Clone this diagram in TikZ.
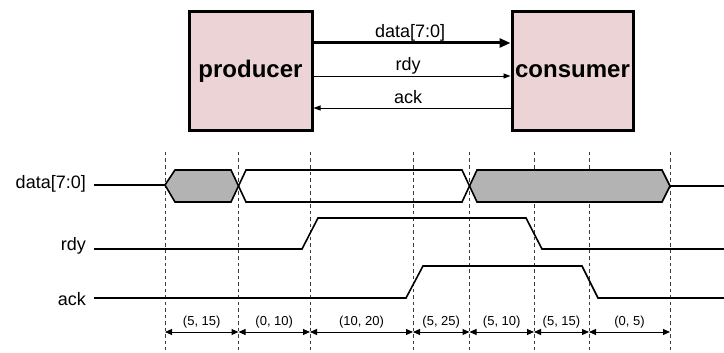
\documentclass[tikz,border=0pt]{standalone}
\usepackage{fontspec}
\setmainfont{Liberation Sans}
\usetikzlibrary{arrows.meta,calc}
\definecolor{blockfill}{RGB}{236,212,214}
\definecolor{busgray}{RGB}{179,179,179}
\definecolor{guidegray}{RGB}{60,60,60}
\tikzset{
  block/.style={draw, line width=3pt, fill=blockfill, inner sep=0pt,
    minimum height=119pt, font=\fontsize{24}{28}\selectfont\bfseries},
  busarrow/.style={line width=3pt, -{Triangle[length=11pt,width=9pt]}},
  wirearrow/.style={line width=0.9pt, -{Triangle[length=7pt,width=5pt]}},
  toplabel/.style={anchor=base, yshift=5pt, font=\fontsize{18}{20}\selectfont},
  siglabel/.style={anchor=mid east, inner sep=0pt, font=\fontsize{18}{20}\selectfont},
  wave/.style={line width=1.6pt, line join=miter},
  guide/.style={draw=guidegray, line width=0.8pt, dash pattern=on 3.5pt off 3pt},
  dim/.style={line width=1pt, {Triangle[length=7pt,width=6pt]}-{Triangle[length=7pt,width=6pt]}},
  dimlabel/.style={font=\fontsize{13}{15}\selectfont, inner sep=0pt},
}
\begin{document}
\begin{tikzpicture}[x=1pt, y=-1pt]
\useasboundingbox (0,0) rectangle (724,353);

% ---- block diagram ----
\node[block, minimum width=123pt] (prod) at (250.5,71.5) {producer};
\node[block, minimum width=121pt] (cons) at (572.5,71.5) {consumer};

\draw[busarrow] (prod.east |- 0,43) -- (cons.west |- 0,43)
  node[toplabel, pos=0.49] {data[7:0]};
\draw[wirearrow] (prod.east |- 0,76) -- (cons.west |- 0,76)
  node[toplabel, pos=0.48] {rdy};
\draw[wirearrow] (cons.west |- 0,108) -- (prod.east |- 0,108)
  node[toplabel, pos=0.52] {ack};

% ---- timing diagram ----
\foreach \n/\x in {1/165,2/238.5,3/310,4/413,5/469.5,6/534,7/589,8/670}
  \coordinate (t\n) at (\x,0);

\foreach \n in {1,...,8}
  \draw[guide] (t\n |- 0,152) -- (t\n |- 0,350);

\node[siglabel] (ldata) at (86,186) {data[7:0]};
\node[siglabel] (lrdy) at (86,248) {rdy};
\node[siglabel] (lack) at (86,303) {ack};

% data bus: shaded valid windows, then outline
\fill[busgray] (165,185) -- (175,170) -- (231,170) -- (238.5,186) -- (231,202) -- (175,202) -- cycle;
\fill[busgray] (469.5,186) -- (477,170) -- (662,170) -- (670,186) -- (662,202) -- (477,202) -- cycle;
\draw[wave] (94,185) -- (165,185);
\draw[wave] (165,185) -- (175,170) -- (231,170) -- (246,202) -- (462,202) -- (477,170) -- (662,170) -- (670,186);
\draw[wave] (165,185) -- (175,202) -- (231,202) -- (246,170) -- (462,170) -- (477,202) -- (662,202) -- (670,186);
\draw[wave] (670,186) -- (724,186);

% rdy
\draw[wave] (94,249) -- (302,249) -- (318,218) -- (526,218) -- (542,249) -- (724,249);
% ack
\draw[wave] (94,298) -- (406,298) -- (423,266) -- (582,266) -- (598,298) -- (724,298);

% timing constraints
\foreach \a/\b/\txt in {1/2/{(5, 15)},2/3/{(0, 10)},3/4/{(10, 20)},4/5/{(5, 25)},5/6/{(5, 10)},6/7/{(5, 15)},7/8/{(0, 5)}} {
  \draw[dim] (t\a |- 0,332) -- (t\b |- 0,332);
  \node[dimlabel] at ($(t\a)!0.5!(t\b) + (0,322)$) {\txt};
}
\end{tikzpicture}
\end{document}
